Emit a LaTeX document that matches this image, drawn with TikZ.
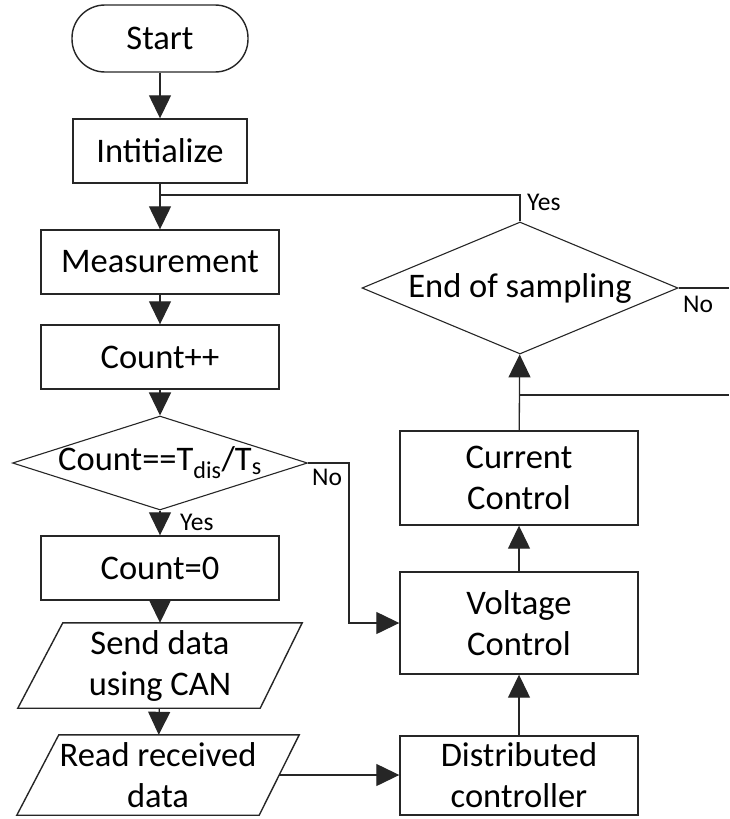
\documentclass[tikz,border=0pt]{standalone}
\usepackage{fontspec}
\setmainfont{Carlito}
\usetikzlibrary{arrows.meta,shapes.geometric,calc}

\tikzset{
  base/.style={draw=black!85, line width=1.4pt, inner sep=0pt, align=center,
               font=\fontsize{34.5}{41}\selectfont},
  stepbox/.style={base, rectangle, minimum width=238, minimum height=64},
  termbox/.style={base, rectangle, rounded corners=33, minimum width=176, minimum height=67},
  dia/.style={draw=black!85, line width=1.1pt, diamond, inner sep=0pt},
  ghost/.style={rectangle, inner sep=0pt, align=center, font=\fontsize{34.5}{41}\selectfont},
  flow/.style={draw=black!85, line width=1.3pt, -{Triangle[length=23,width=22]}},
  line/.style={draw=black!85, line width=1.3pt},
  tag/.style={font=\fontsize{25.5}{29}\selectfont, inner sep=0pt}
}

\begin{document}
\begin{tikzpicture}[x=1pt,y=-1pt]
\useasboundingbox (0,0) rectangle (729,819);

% left column
\node[termbox] (start) at (160,38.5) {Start};
\node[stepbox, minimum width=174] (init) at (160,151) {Intitialize};
\node[stepbox] (meas) at (160,262) {Measurement};
\node[stepbox] (cnt) at (160,357) {Count++};
\node[dia, minimum width=295, minimum height=94] (dcount) at (160,463) {};
\node[font=\fontsize{34.5}{41}\selectfont, inner sep=0pt] at (dcount) {Count==T\textsubscript{dis}/T\textsubscript{s}};
\node[stepbox] (zero) at (160,568) {Count=0};

% input/output parallelograms
\node[ghost, minimum width=284, minimum height=85] (send) at (160,665.5) {Send data\\using CAN};
\draw[draw=black!85, line width=1.4pt]
  ([xshift=45]send.north west) -- (send.north east)
  -- ([xshift=-42]send.south east) -- (send.south west) -- cycle;
\node[ghost, minimum width=282, minimum height=80] (read) at (158,775) {Read received\\data};
\draw[draw=black!85, line width=1.4pt]
  ([xshift=42]read.north west) -- (read.north east)
  -- ([xshift=-40]read.south east) -- (read.south west) -- cycle;
\coordinate (readout) at ($(read.north east)!0.5!([xshift=-40]read.south east)$);

% right column
\node[stepbox, minimum height=79] (dist) at (519,775.5) {Distributed\\controller};
\node[stepbox, minimum height=102] (volt) at (519,623) {Voltage\\Control};
\node[stepbox, minimum height=94] (curr) at (519,478) {Current\\Control};
\node[dia, minimum width=316, minimum height=132] (dend) at (520,288) {};
\node[font=\fontsize{34.5}{41}\selectfont, inner sep=0pt] at (dend) {End of sampling};

% main flow
\coordinate (jin) at (160,195);
\draw[flow] (start) -- (init);
\draw[flow] (init) -- (meas);
\draw[flow] (meas) -- (cnt);
\draw[flow] (cnt) -- (dcount);
\draw[flow] (dcount) -- (zero);
\node[tag, anchor=west] at (180,522) {Yes};
\draw[flow] (zero) -- (send);
\draw[flow] (send) -- (read);

% branch to the controller
\coordinate (nbend) at (349,463);
\draw[flow] (dcount.east) -- (nbend) |- (volt.west);
\node[tag, anchor=north west] at (312,469) {No};
\draw[flow] (readout) -- (readout -| dist.west);
\draw[flow] (dist) -- (volt);
\draw[flow] (volt) -- (curr);
\draw[flow] (curr) -- (dend);

% loop back and exits
\coordinate (jcur) at (519,395);
\coordinate (exitA) at (729,395);
\draw[line] (jcur) -- (exitA);
\coordinate (yesup) at (520,195);
\draw[line] (dend.north) -- (yesup) -- (jin);
\node[tag, anchor=west] at (527,202) {Yes};
\coordinate (exitB) at (729,288);
\draw[line] (dend.east) -- (exitB);
\node[tag, anchor=north west] at (683,296) {No};
\end{tikzpicture}
\end{document}
